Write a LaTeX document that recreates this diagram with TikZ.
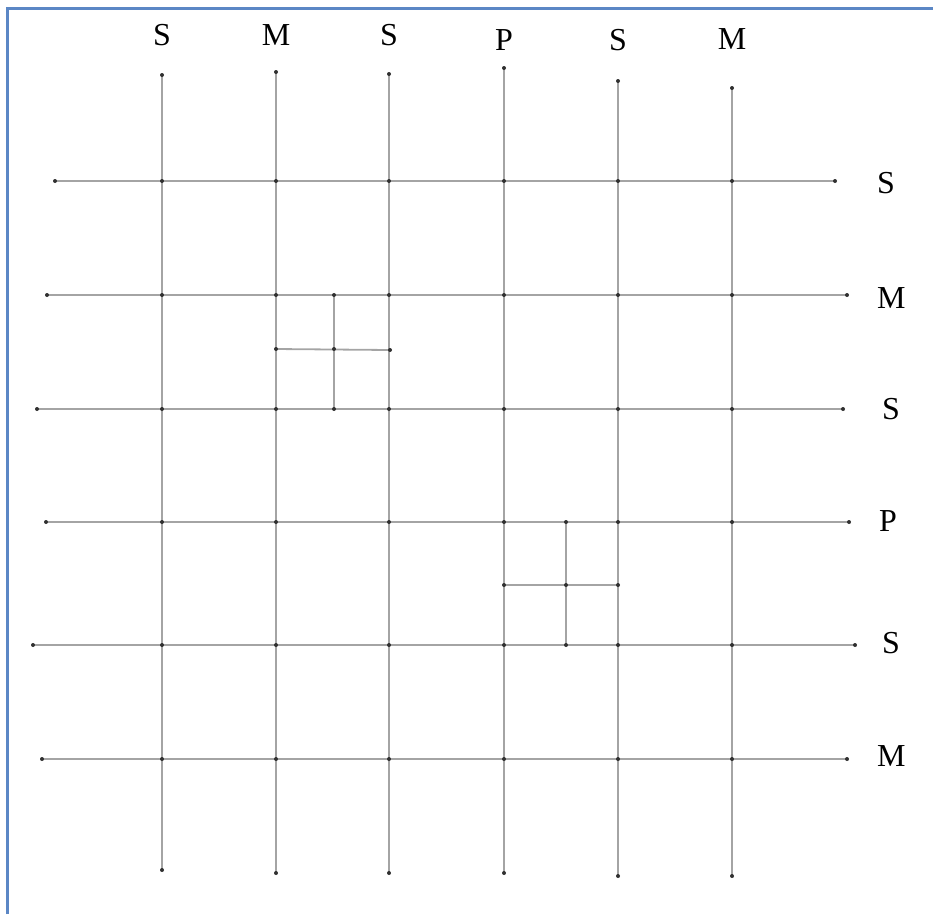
\documentclass[tikz,border=0pt]{standalone}
\usepackage{fontspec}
\setmainfont{Liberation Serif}
\definecolor{gridgray}{HTML}{A4A4A4}
\definecolor{dotgray}{HTML}{303030}
\definecolor{frameblue}{HTML}{5B87C5}
\tikzset{
  gline/.style={draw=gridgray, line width=1.8pt},
  gdot/.style={fill=dotgray},
  lbl/.style={font=\fontsize{32}{34}\selectfont, inner sep=0pt},
  frame/.style={draw=frameblue, line width=3pt}
}
\begin{document}
\begin{tikzpicture}[x=1pt,y=-1pt]
\useasboundingbox (0,0) rectangle (933,914);
% frame
\coordinate (fa) at (7,914);
\coordinate (fb) at (7,8);
\coordinate (fc) at (933,8);
\draw[frame] (fa) -- (fb) -- (fc);
% grid coordinates
\def\xs{{162,276,389,504,618,732}}
\def\ys{{181,295,409,522,645,759}}
\def\tops{{75,72,74,68,81,88}}
\def\bots{{870,873,873,873,876,876}}
\def\lefts{{55,47,37,46,33,42}}
\def\rights{{835,847,843,849,855,847}}
\foreach \i in {0,...,5}{
  \pgfmathsetmacro{\xx}{\xs[\i]}
  \pgfmathsetmacro{\tt}{\tops[\i]}
  \pgfmathsetmacro{\bb}{\bots[\i]}
  \coordinate (t\i) at (\xx,\tt);
  \coordinate (b\i) at (\xx,\bb);
  \pgfmathsetmacro{\yy}{\ys[\i]}
  \pgfmathsetmacro{\ll}{\lefts[\i]}
  \pgfmathsetmacro{\rr}{\rights[\i]}
  \coordinate (l\i) at (\ll,\yy);
  \coordinate (r\i) at (\rr,\yy);
}
\foreach \i in {0,...,5}{
  \foreach \j in {0,...,5}{
    \pgfmathsetmacro{\xx}{\xs[\i]}
    \pgfmathsetmacro{\yy}{\ys[\j]}
    \coordinate (g\i\j) at (\xx,\yy);
  }
}
% main lines
\foreach \i in {0,...,5}{
  \draw[gline] (t\i) -- (b\i);
  \draw[gline] (l\i) -- (r\i);
}
% inner box 1
\coordinate (p1t) at (334,295);
\coordinate (p1b) at (334,409);
\coordinate (p1l) at (276,349);
\coordinate (p1r) at (390,350);
\coordinate (p1c) at (334,349);
\draw[gline] (p1t) -- (p1b);
\draw[gline] (p1l) -- (p1r);
% inner box 2
\coordinate (p2t) at (566,522);
\coordinate (p2b) at (566,645);
\coordinate (p2l) at (504,585);
\coordinate (p2r) at (618,585);
\coordinate (p2c) at (566,585);
\draw[gline] (p2t) -- (p2b);
\draw[gline] (p2l) -- (p2r);
% dots
\foreach \i in {0,...,5}{
  \fill[gdot] (t\i) circle (2);
  \fill[gdot] (b\i) circle (2);
  \fill[gdot] (l\i) circle (2);
  \fill[gdot] (r\i) circle (2);
  \foreach \j in {0,...,5}{
    \fill[gdot] (g\i\j) circle (2);
  }
}
\foreach \p in {p1t,p1b,p1l,p1r,p1c,p2t,p2b,p2l,p2r,p2c}{
  \fill[gdot] (\p) circle (2);
}
% top labels
\node[lbl] (c0) at (162,35) {S};
\node[lbl] (c1) at (276,35) {M};
\node[lbl] (c2) at (389,35) {S};
\node[lbl] (c3) at (504,40) {P};
\node[lbl] (c4) at (618,40) {S};
\node[lbl] (c5) at (732,39) {M};
% right labels
\node[lbl, anchor=west] (w0) at (877,183) {S};
\node[lbl, anchor=west] (w1) at (877,298) {M};
\node[lbl, anchor=west] (w2) at (882,409) {S};
\node[lbl, anchor=west] (w3) at (879,521) {P};
\node[lbl, anchor=west] (w4) at (882,643) {S};
\node[lbl, anchor=west] (w5) at (877,756) {M};
\end{tikzpicture}
\end{document}
